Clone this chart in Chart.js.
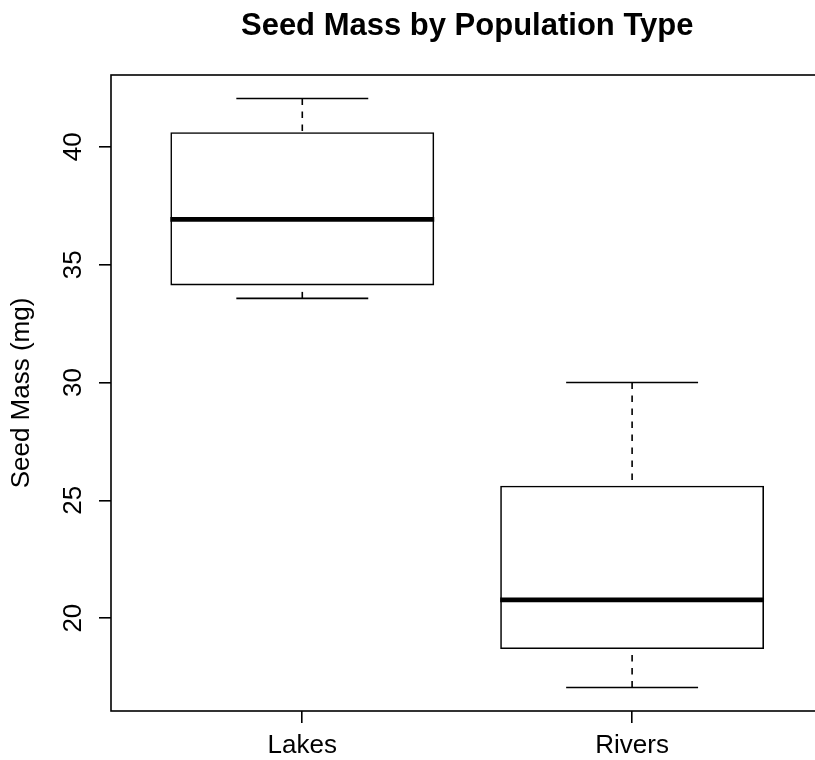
<!DOCTYPE html>
<html>
<head>
<meta charset="utf-8">
<title>Seed Mass by Population Type</title>
<script src="https://cdn.jsdelivr.net/npm/chart.js@4.4.1/dist/chart.umd.min.js"></script>
<style>
  html, body { margin: 0; padding: 0; background: #fff; overflow: hidden; }
</style>
</head>
<body>
<canvas id="seedChart" width="824" height="760"></canvas>
<script>
// Box plot statistics
const categories  = ["Lakes", "Rivers"];
const whiskerLow  = [33.57, 17.06];
const q1          = [34.12, 18.69];
const medians     = [36.92, 20.78];
const q3          = [40.62, 25.62];
const whiskerHigh = [42.05, 30.00];
const yTicks      = [20, 25, 30, 35, 40];
const chartTitle  = "Seed Mass by Population Type";

const FONT = "'Liberation Sans', Arial, Helvetica, sans-serif";

// R style axis range: data range plus 4% on each side
const lo = Math.min(...whiskerLow);
const hi = Math.max(...whiskerHigh);
const yMin = lo - (hi - lo) * 0.04;
const yMax = hi + (hi - lo) * 0.04;
const xMin = 0.5 - categories.length * 0.04;
const xMax = categories.length + 0.5 + categories.length * 0.04;

// Whiskers, staples, medians, frame, title and the rotated y labels
const boxPlotExtras = {
    id: "boxPlotExtras",
    afterDatasetsDraw(chart) {
        const { ctx, chartArea, scales: { x, y } } = chart;
        const meta = chart.getDatasetMeta(0);
        ctx.save();
        ctx.strokeStyle = "#000";
        categories.forEach((name, i) => {
            const cx = x.getPixelForValue(i + 1);
            const half = meta.data[i].width / 2;

            // dashed whiskers, drawn from the end toward the box
            ctx.lineWidth = 1.6;
            ctx.setLineDash([6.5, 6.5]);
            [[whiskerLow[i], q1[i]], [whiskerHigh[i], q3[i]]].forEach(([from, to]) => {
                ctx.beginPath();
                ctx.moveTo(cx, y.getPixelForValue(from));
                ctx.lineTo(cx, y.getPixelForValue(to));
                ctx.stroke();
            });
            ctx.setLineDash([]);

            // staples are half the box width
            [whiskerLow[i], whiskerHigh[i]].forEach(v => {
                const py = y.getPixelForValue(v);
                ctx.beginPath();
                ctx.moveTo(cx - half / 2, py);
                ctx.lineTo(cx + half / 2, py);
                ctx.stroke();
            });

            // thick median line
            ctx.lineWidth = 4.8;
            const my = y.getPixelForValue(medians[i]);
            ctx.beginPath();
            ctx.moveTo(cx - half, my);
            ctx.lineTo(cx + half, my);
            ctx.stroke();
        });

        ctx.lineWidth = 1.6;
        ctx.strokeRect(chartArea.left, chartArea.top, chartArea.width, chartArea.height);

        ctx.fillStyle = "#000";
        ctx.textAlign = "center";
        ctx.textBaseline = "alphabetic";

        // title is centred over the plot region
        ctx.font = "bold 31px " + FONT;
        ctx.fillText(chartTitle, (chartArea.left + chartArea.right) / 2, 35);

        ctx.font = "26px " + FONT;
        y.ticks.forEach((t, k) => {
            ctx.save();
            ctx.translate(81, y.getPixelForTick(k));
            ctx.rotate(-Math.PI / 2);
            ctx.fillText(String(t.value), 0, 0);
            ctx.restore();
        });
        ctx.restore();
    }
};

function initChart() {
    const ctx = document.getElementById("seedChart").getContext("2d");
    new Chart(ctx, {
        type: "bar",
        data: {
            datasets: [{
                label: "Seed Mass",
                data: categories.map((c, i) => ({ x: i + 1, y: [q1[i], q3[i]] })),
                backgroundColor: "rgba(255,255,255,0)",
                borderColor: "#000",
                borderWidth: 1.6,
                borderSkipped: false,
                categoryPercentage: 0.8,
                barPercentage: 1.0,
            }]
        },
        options: {
            responsive: false,
            animation: false,
            layout: { padding: { left: 0, right: 0.6, top: 75, bottom: 0 } },
            plugins: {
                legend: { display: false },
                tooltip: { enabled: false },
                title: { display: false }
            },
            scales: {
                x: {
                    type: "linear",
                    min: xMin,
                    max: xMax,
                    offset: false,
                    afterBuildTicks: s => { s.ticks = categories.map((c, i) => ({ value: i + 1 })); },
                    afterFit: s => { s.height = 49; },
                    ticks: {
                        callback: v => categories[v - 1],
                        color: "#000",
                        font: { family: FONT, size: 26 },
                        padding: 7,
                        autoSkip: false,
                        maxRotation: 0
                    },
                    grid: { offset: false, drawOnChartArea: false, tickLength: 12, color: "#000", lineWidth: 1.6 },
                    border: { display: false }
                },
                y: {
                    min: yMin,
                    max: yMax,
                    afterBuildTicks: s => { s.ticks = yTicks.map(v => ({ value: v })); },
                    afterFit: s => { s.width = 111; },
                    ticks: { display: false },
                    grid: { drawOnChartArea: false, tickLength: 12, color: "#000", lineWidth: 1.6 },
                    border: { display: false },
                    title: {
                        display: true,
                        text: "Seed Mass (mg)",
                        color: "#000",
                        font: { family: FONT, size: 26 },
                        padding: { top: 6, bottom: 0 }
                    }
                }
            }
        },
        plugins: [boxPlotExtras]
    });
}

document.addEventListener("DOMContentLoaded", initChart);
</script>
</body>
</html>
